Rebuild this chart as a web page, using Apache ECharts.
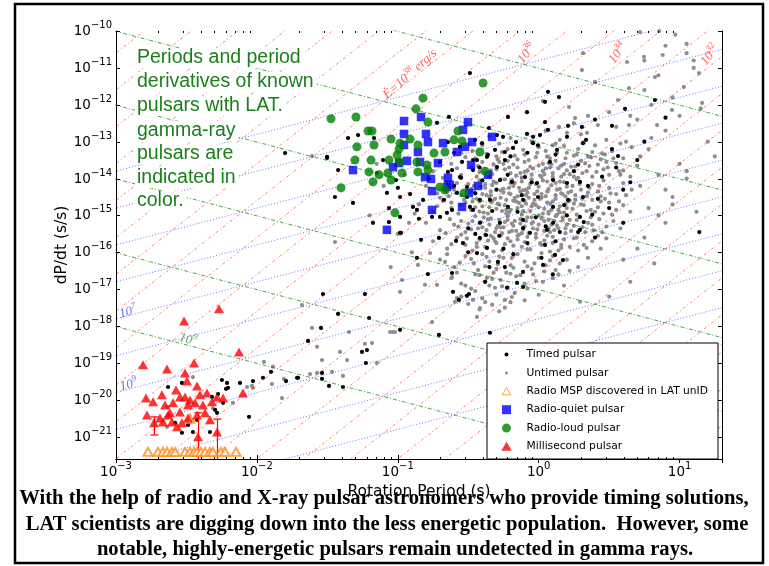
<!DOCTYPE html>
<html><head><meta charset="utf-8">
<script src="https://cdn.jsdelivr.net/npm/echarts@6/dist/echarts.min.js"></script>
<style>html,body{margin:0;padding:0;background:#fff}#c{width:769px;height:566px}</style>
</head><body><div id="c"></div>
<script>
// ---------------- DATA (log10 P [s], log10 dP/dt [s/s]) ----------------
const timedPulsars = [
[-1.318,-14.66],[-1.063,-15.18],[-1.531,-17.13],[-1.233,-17.13],[-1.424,-17.67],[-1.204,-17.78],[-1.545,-18.05],[-1.637,-18.4],[-1.254,-18.7],[-1.219,-18.65],[-1.226,-19.0],[-1.538,-19.27],[-1.538,-19.43],[-1.488,-19.62],[-1.389,-19.65],[-1.715,-19.4],[-1.793,-19.49],[-1.9,-19.24],[-1.957,-19.4],[-2.028,-19.49],[-2.12,-19.54],[-2.056,-20.46],
[-0.488,-11.14],[0.066,-11.65],[-0.083,-12.2],[-0.637,-12.33],[-1.282,-12.82],[-1.169,-12.9],[-1.353,-12.9],[-1.502,-13.44],[-1.424,-13.77],[-1.446,-14.5],[-1.077,-14.39],[-0.913,-14.42],[-0.999,-14.25],[-0.864,-14.85],[-0.85,-15.09],[-0.984,-15.47],[-1.176,-15.2],[-1.063,-14.8],[-1.148,-13.85],[-1.105,-13.5],[-1.013,-14.04],[-0.722,-12.49],[-0.644,-13.01],[-0.559,-13.14],[-0.452,-12.95],[-0.402,-13.04],[-0.31,-13.22],[-0.253,-12.87],[-0.182,-13.17],[-0.04,-13.04],[0.009,-12.82],[-0.466,-13.5],[-0.367,-13.41],[-0.296,-13.69],[-0.24,-13.5],[-0.615,-13.77],[-0.551,-13.98],[-0.509,-14.23],[-0.58,-14.39],[-0.672,-14.58],[-0.651,-14.93],[-0.757,-15.04],[-0.488,-14.77],[-0.417,-14.58],
[0.045,-12.47],[0.208,-12.57],[0.314,-13.04],[0.307,-12.6],[-0.161,-13.01],[-0.005,-13.1],[0.13,-13.22],[0.201,-12.87],[-0.296,-12.82],[-0.24,-13.28],[-0.36,-13.36],[-0.438,-13.5],[-0.544,-13.55],[-0.644,-13.82],[-0.559,-13.96],[-0.466,-13.77],[-0.275,-14.04],[-0.19,-14.09],[-0.097,-13.96],[-0.012,-14.12],[0.102,-14.04],[0.201,-14.12],[0.293,-14.09],[0.314,-14.5],[0.208,-14.58],[0.102,-14.77],[-0.005,-14.5],[-0.111,-14.58],[-0.218,-14.77],[-0.346,-14.58],[-0.466,-14.85],[-0.509,-14.5],[-0.615,-14.85],[-0.7,-15.04],[-0.821,-14.58],[-0.892,-14.77],[-0.984,-14.5],[-0.984,-15.04],[0.293,-15.04],[0.102,-15.2],[-0.111,-15.12],[-0.275,-15.2],[-0.417,-15.2],
[-0.977,-15.47],[-0.835,-15.66],[-0.864,-16.15],[-0.786,-16.59],[-0.615,-16.56],[-0.608,-17.07],[-0.509,-17.18],[-0.495,-17.13],[-0.566,-17.29],[-0.708,-15.61],[-0.587,-15.69],[-0.537,-15.75],[-0.438,-16.02],[-0.367,-15.88],[-0.289,-16.26],[-0.24,-16.4],[-0.225,-16.96],[-0.111,-16.53],[-0.154,-16.83],[0.045,-15.8],[0.031,-16.34],[0.116,-16.07],[0.172,-16.21],[-0.111,-16.94],[-0.984,-18.1],[-0.708,-18.24],[-0.346,-18.18],[-0.417,-15.61],[-0.374,-15.53],[-0.111,-15.34],[-0.062,-15.47],[0.059,-15.39],[0.293,-15.39],
[0.045,-11.92],[-0.218,-12.33],[-0.353,-12.63],[-0.083,-12.79],[0.066,-12.68],[-0.04,-12.87],[0.144,-11.79],[0.613,-12.11],[0.52,-12.57],[0.825,-11.87],[0.336,-12.95],[0.563,-13.39],
[-1.8,-13.31],[-1.502,-13.41],[1.14,-15.45],
[-2.631,-19.65],[-2.532,-19.54],[-2.212,-19.54],[-2.205,-19.67],[-2.319,-19.92],[-2.283,-20.35],[-2.333,-20.87],[-2.532,-20.89],[-2.454,-20.87],[-2.425,-20.54],[-2.24,-20.08],[-2.581,-20.62],[-2.489,-20.68],[-2.248,-19.46],[-2.219,-19.7],[-1.708,-19.4],[-2.297,-20.27],[-2.276,-19.84],
[-0.3,-14.3],[-0.15,-14.9],[0.05,-15.3],[0.2,-15.0],[-0.45,-15.5],[0.35,-14.2],[-0.05,-14.1],[0.12,-15.7],[-0.25,-15.9],[0.4,-15.6],[-0.6,-14.2],[0.5,-14.8],[-0.35,-16.4],[0.1,-16.6],[-0.5,-16.0],[0.25,-13.8],[-0.2,-13.4],[0.55,-13.7],[0.42,-14.55],[-0.08,-15.75],[0.28,-15.45],[-0.4,-14.05],[0.6,-14.3],[0.7,-13.5],
[-0.42,-13.7],[-0.33,-14.88],[-0.22,-13.9],[-0.12,-14.45],[-0.02,-15.05],[0.08,-13.55],[0.18,-14.72],[0.28,-13.62],[0.38,-14.98],[0.45,-13.95],[-0.5,-15.35],[-0.28,-15.55],[-0.18,-16.05],[0.02,-16.15],[0.15,-15.45],[-0.38,-16.8],[-0.45,-14.4],[0.32,-15.18],[-0.08,-13.3],[0.52,-13.2],[0.12,-13.35],[-0.6,-13.3],[-0.7,-13.55],[-0.78,-14.0],[0.65,-14.1],[0.75,-13.0],[0.4,-12.4],[0.9,-12.35],[0.6,-15.2]
];
const untimedPulsars = [
[-0.2,-12.9],[0.05,-12.7],[0.3,-12.8],[0.55,-12.6],[0.62,-13.0],[0.15,-12.95],[0.42,-12.55],[0.8,-12.9],[-0.35,-12.85],[0.7,-12.4],[0.9,-12.7],[0.25,-12.5],[-0.05,-13.0],[0.48,-12.95],[1.0,-12.3],
[-0.55,-13.3],[-0.4,-13.1],[-0.3,-13.4],[-0.22,-13.2],[-0.1,-13.35],[0.0,-13.15],[0.08,-13.45],[0.12,-13.05],[0.2,-13.3],[0.28,-13.2],[0.35,-13.4],[0.4,-13.1],[0.47,-13.35],[0.52,-13.25],[0.6,-13.45],[0.66,-13.15],[0.72,-13.4],[-0.15,-13.48],[-0.45,-13.45],[0.18,-13.12],[0.32,-13.02],[0.58,-13.05],[-0.02,-13.42],[0.44,-13.48],[0.25,-13.38],[0.05,-13.25],[-0.28,-13.05],[0.78,-13.2],[0.38,-13.28],[0.1,-13.1],
[-0.75,-13.8],[-0.62,-13.6],[-0.55,-13.9],[-0.48,-13.7],[-0.4,-13.55],[-0.35,-13.95],[-0.3,-13.75],[-0.25,-13.6],[-0.2,-13.85],[-0.15,-13.7],[-0.1,-13.55],[-0.05,-13.9],[0.0,-13.65],[0.03,-13.8],[0.07,-13.58],[0.1,-13.95],[0.14,-13.72],[0.18,-13.6],[0.22,-13.88],[0.26,-13.67],[0.3,-13.52],[0.34,-13.8],[0.38,-13.95],[0.42,-13.62],[0.46,-13.75],[0.5,-13.9],[0.55,-13.58],[0.6,-13.78],[0.65,-13.95],[0.7,-13.65],[-0.68,-13.98],[-0.42,-13.82],[-0.12,-13.98],[0.12,-13.52],[0.28,-13.98],[0.48,-13.55],[-0.58,-13.72],[-0.22,-13.52],[0.02,-13.96],[0.36,-13.66],[0.58,-13.9],[-0.32,-13.62],[0.2,-13.78],[0.08,-13.7],[-0.08,-13.78],
[-0.8,-14.2],[-0.72,-14.4],[-0.66,-14.1],[-0.6,-14.3],[-0.55,-14.45],[-0.5,-14.15],[-0.46,-14.35],[-0.42,-14.05],[-0.38,-14.25],[-0.34,-14.45],[-0.3,-14.12],[-0.27,-14.32],[-0.24,-14.02],[-0.21,-14.4],[-0.18,-14.2],[-0.15,-14.48],[-0.12,-14.08],[-0.09,-14.3],[-0.06,-14.15],[-0.03,-14.42],[0.0,-14.22],[0.03,-14.05],[0.06,-14.35],[0.09,-14.18],[0.12,-14.45],[0.15,-14.28],[0.18,-14.1],[0.21,-14.38],[0.24,-14.2],[0.27,-14.02],[0.3,-14.3],[0.34,-14.48],[0.38,-14.15],[0.42,-14.35],[0.46,-14.05],[0.5,-14.25],[0.55,-14.42],[0.6,-14.12],[0.66,-14.3],[0.72,-14.2],[-0.64,-14.48],[-0.48,-14.28],[-0.33,-14.18],[-0.19,-14.05],[-0.07,-14.25],[0.05,-14.48],[0.16,-14.4],[0.26,-14.45],[0.36,-14.25],[0.44,-14.48],[-0.25,-14.38],[-0.4,-14.42],[0.1,-14.02],[-0.13,-14.35],[0.2,-14.22],
[-0.85,-14.7],[-0.75,-14.9],[-0.68,-14.6],[-0.62,-14.8],[-0.57,-14.95],[-0.52,-14.65],[-0.48,-14.85],[-0.44,-14.55],[-0.4,-14.75],[-0.36,-14.95],[-0.33,-14.62],[-0.3,-14.82],[-0.27,-14.52],[-0.24,-14.72],[-0.21,-14.92],[-0.18,-14.6],[-0.15,-14.8],[-0.12,-14.98],[-0.09,-14.68],[-0.06,-14.88],[-0.03,-14.58],[0.0,-14.78],[0.03,-14.95],[0.06,-14.65],[0.09,-14.85],[0.12,-14.55],[0.15,-14.75],[0.18,-14.92],[0.21,-14.62],[0.24,-14.82],[0.27,-14.98],[0.3,-14.7],[0.34,-14.88],[0.38,-14.58],[0.42,-14.78],[0.46,-14.95],[0.5,-14.65],[0.55,-14.85],[0.6,-14.72],[0.65,-14.9],[-0.7,-14.52],[-0.55,-14.72],[-0.42,-14.9],[-0.29,-14.68],[-0.17,-14.52],[-0.05,-14.75],[0.07,-14.9],[0.19,-14.7],[0.31,-14.55],[0.44,-14.62],[-0.35,-14.78],[-0.2,-14.85],[-0.1,-14.6],[0.02,-14.52],[0.13,-14.98],[0.25,-14.68],[0.37,-14.85],[-0.47,-14.62],[0.52,-14.98],[-0.23,-14.58],
[-0.8,-15.2],[-0.7,-15.4],[-0.63,-15.1],[-0.57,-15.3],[-0.52,-15.45],[-0.47,-15.15],[-0.43,-15.35],[-0.39,-15.05],[-0.35,-15.25],[-0.31,-15.45],[-0.28,-15.12],[-0.25,-15.32],[-0.22,-15.02],[-0.19,-15.22],[-0.16,-15.42],[-0.13,-15.1],[-0.1,-15.3],[-0.07,-15.48],[-0.04,-15.18],[-0.01,-15.38],[0.02,-15.08],[0.05,-15.28],[0.08,-15.45],[0.11,-15.15],[0.14,-15.35],[0.17,-15.05],[0.2,-15.25],[0.23,-15.42],[0.27,-15.12],[0.31,-15.32],[0.35,-15.2],[0.39,-15.4],[0.43,-15.1],[0.48,-15.3],[0.53,-15.15],[0.58,-15.35],[-0.66,-15.48],[-0.5,-15.22],[-0.37,-15.4],[-0.24,-15.18],[-0.12,-15.48],[0.0,-15.25],[0.12,-15.02],[0.25,-15.28],[0.37,-15.05],[-0.45,-15.02],[-0.3,-15.35],[-0.18,-15.28],[-0.05,-15.05],[0.07,-15.35],[0.19,-15.48],[0.33,-15.45],[-0.6,-15.25],[0.45,-15.45],[-0.09,-15.15],
[-0.75,-15.7],[-0.65,-15.9],[-0.58,-15.6],[-0.52,-15.8],[-0.47,-15.95],[-0.42,-15.65],[-0.38,-15.85],[-0.34,-15.55],[-0.3,-15.75],[-0.26,-15.95],[-0.22,-15.62],[-0.18,-15.82],[-0.14,-15.52],[-0.1,-15.72],[-0.06,-15.92],[-0.02,-15.6],[0.02,-15.8],[0.06,-15.55],[0.1,-15.75],[0.14,-15.95],[0.18,-15.65],[0.22,-15.85],[0.27,-15.6],[0.32,-15.8],[0.38,-15.7],[0.44,-15.9],[-0.55,-15.52],[-0.44,-15.75],[-0.32,-15.98],[-0.2,-15.7],[-0.08,-15.58],[0.04,-15.68],[0.16,-15.88],[0.28,-15.95],[-0.36,-15.68],[-0.12,-15.85],[0.08,-15.98],[-0.62,-15.78],[0.48,-15.62],[-0.27,-15.55],
[-0.7,-16.2],[-0.6,-16.4],[-0.52,-16.1],[-0.46,-16.3],[-0.4,-16.05],[-0.35,-16.25],[-0.3,-16.45],[-0.25,-16.15],[-0.2,-16.35],[-0.15,-16.05],[-0.1,-16.25],[-0.05,-16.45],[0.0,-16.15],[0.05,-16.35],[0.1,-16.1],[0.15,-16.3],[0.2,-16.2],[0.28,-16.4],[-0.56,-16.28],[-0.43,-16.48],[-0.28,-16.12],[-0.18,-16.42],[-0.03,-16.3],[0.12,-16.48],[0.35,-16.15],[-0.65,-16.05],[-0.38,-16.38],[0.02,-16.02],
[-0.62,-16.7],[-0.52,-16.9],[-0.45,-16.6],[-0.38,-16.8],[-0.32,-16.55],[-0.27,-16.75],[-0.22,-16.95],[-0.16,-16.65],[-0.1,-16.85],[-0.04,-16.6],[0.03,-16.8],[0.1,-16.7],[-0.48,-16.98],[-0.35,-16.9],[-0.2,-16.58],[0.18,-16.9],[-0.58,-16.55],[-0.08,-16.98],
[-0.55,-17.2],[-0.45,-17.05],[-0.38,-17.35],[-0.3,-17.15],[-0.24,-17.5],[-0.17,-17.1],[-0.1,-17.3],[-0.42,-17.55],[0.0,-17.15],[-0.28,-17.6],
[-0.42,-14.62],[-0.38,-14.15],[-0.36,-15.1],[-0.33,-13.88],[-0.31,-14.55],[-0.29,-15.28],[-0.27,-14.02],[-0.26,-14.88],[-0.24,-13.75],[-0.22,-15.12],[-0.2,-14.42],[-0.19,-15.42],[-0.17,-14.12],[-0.16,-13.92],[-0.14,-14.66],[-0.13,-15.22],[-0.11,-14.32],[-0.1,-13.82],[-0.08,-15.05],[-0.07,-14.52],[-0.05,-14.02],[-0.04,-15.35],[-0.02,-14.72],[0.01,-13.92],[0.02,-14.42],[0.04,-15.15],[0.06,-14.08],[0.08,-14.68],[0.1,-13.85],[0.11,-15.4],[0.13,-14.3],[0.14,-14.85],[0.16,-13.65],[0.17,-15.12],[0.19,-14.48],[-0.44,-13.95],[-0.4,-15.32],[-0.34,-14.35],[-0.28,-13.55],[-0.23,-14.95],[-0.18,-13.62],[-0.12,-14.75],[-0.06,-13.68],[0.0,-15.0],[0.05,-13.72],[0.09,-15.25],[0.15,-14.08],[0.18,-13.88],[-0.37,-14.45],[-0.21,-14.25],[-0.01,-14.35],[0.07,-14.95],[-0.15,-15.55],[-0.32,-15.62],[-0.09,-14.45],[0.03,-13.6],[0.22,-14.6],[0.25,-13.95],[-0.46,-14.2],[-0.26,-15.48],
[-0.52,-13.42],[-0.47,-13.25],[-0.43,-13.66],[-0.37,-13.33],[-0.34,-13.78],[-0.29,-13.48],[-0.26,-13.28],[-0.21,-13.7],[-0.17,-13.38],[-0.13,-13.85],[-0.11,-13.22],[-0.07,-13.5],[-0.04,-13.73],[-0.01,-13.3],[0.04,-13.88],[0.06,-13.4],[0.09,-13.62],[0.13,-13.3],[0.16,-13.95],[0.19,-13.45],[0.23,-13.68],[0.27,-13.35],[0.31,-13.85],[0.33,-13.58],[0.37,-13.42],[0.41,-13.82],[0.45,-13.32],[0.49,-13.7],[0.53,-13.45],[0.57,-13.8],
[-0.58,-14.12],[-0.53,-14.58],[-0.49,-14.38],[-0.45,-14.78],[-0.41,-14.22],[-0.39,-14.92],[-0.35,-14.5],[-0.32,-14.08],[-0.28,-14.7],[-0.25,-14.28],[-0.23,-14.85],[-0.2,-14.12],[-0.16,-14.62],[-0.14,-14.25],[-0.11,-14.88],[-0.08,-14.38],[-0.04,-14.68],[-0.02,-14.15],[0.01,-14.55],[0.04,-14.82],[0.07,-14.28],[0.1,-14.62],[0.12,-14.12],[0.15,-14.92],[0.17,-14.42],[0.2,-14.8],[0.23,-14.35],[0.26,-14.58],[0.29,-14.15],[0.32,-14.72],[0.35,-14.38],[0.4,-14.9],[0.43,-14.2],[0.47,-14.55],[0.51,-14.4],[0.57,-14.62],[0.62,-14.45],[-0.62,-14.65],[-0.66,-14.35],[-0.72,-14.75],
[-0.55,-15.15],[-0.51,-15.62],[-0.48,-15.38],[-0.44,-15.85],[-0.41,-15.18],[-0.38,-15.52],[-0.34,-15.08],[-0.31,-15.7],[-0.27,-15.32],[-0.24,-15.78],[-0.21,-15.45],[-0.17,-15.15],[-0.15,-15.65],[-0.11,-15.38],[-0.08,-15.92],[-0.05,-15.22],[-0.02,-15.5],[0.01,-15.75],[0.04,-15.42],[0.07,-15.12],[0.1,-15.58],[0.13,-15.28],[0.16,-15.8],[0.19,-15.35],[0.22,-15.12],[0.25,-15.62],[0.29,-15.4],[0.34,-15.88],[0.38,-15.25],[0.42,-15.55],
[-0.48,-16.18],[-0.42,-16.62],[-0.37,-16.12],[-0.33,-16.72],[-0.29,-16.32],[-0.23,-16.55],[-0.19,-16.15],[-0.13,-16.62],[-0.08,-16.38],[-0.02,-16.78],[0.04,-16.52],[0.08,-16.22],[0.14,-16.6],[0.22,-16.5],[-0.55,-16.85],[-0.26,-16.92],[-0.4,-17.25],[-0.33,-17.42],[-0.2,-17.35],[-0.5,-17.4],
[-1.1,-14.2],[-1.0,-15.5],[-0.95,-13.9],[-0.9,-16.0],[-1.2,-15.0],[-0.88,-14.95],[-1.05,-16.4],[-0.92,-15.2],[-1.15,-13.6],
[-0.984,-17.07],[-0.807,-16.88],[-0.757,-17.89],[-1.034,-18.16],[-0.58,-17.24],[-0.466,-17.29],[-0.438,-17.75],[-0.417,-17.51],[-0.594,-17.34],[-0.722,-16.88],[-0.615,-16.67],[-0.367,-16.69],[-0.31,-16.96],[-0.24,-17.29],[-0.19,-17.21],[-0.97,-16.75],[-0.857,-16.34],[-0.771,-16.02],[-0.665,-16.26],[0.293,-17.34],
[0.5,-12.2],[0.75,-11.6],[0.85,-11.2],[0.95,-11.8],[1.1,-11.0],[0.9,-10.4],[1.05,-10.6],[0.65,-12.3],[0.35,-12.3],[1.15,-12.1],[0.8,-12.0],[1.2,-13.0],[1.0,-13.6],[0.9,-14.3],[0.85,-15.0],[0.95,-14.7],[0.75,-15.6],[0.6,-16.2],[0.65,-16.8],[0.5,-17.2],[1.05,-14.0],[1.25,-13.4],
[0.97,-10.1],[1.05,-10.35],[1.1,-10.8],[0.75,-10.8],[0.88,-10.65],
[0.307,-11.06],[0.4,-11.38],[0.747,-10.7],[0.72,-10.03],[0.855,-10.0],[0.627,-10.84],[0.825,-11.25],[0.641,-11.55],[0.215,-12.06],[0.563,-11.87],[1.03,-11.52],[1.138,-11.14],[0.946,-12.14],[1.16,-11.95],[0.641,-12.55],[0.84,-12.55],
[0.03,-11.9],[0.314,-10.6],[0.258,-12.36],[0.144,-12.6],[0.343,-12.76],[0.201,-12.76],
[0.85,-13.9],[0.95,-14.5],[1.05,-13.8],[0.9,-15.2],[0.78,-14.8],[1.12,-14.9],[0.7,-15.9],[0.82,-16.3],
[-1.446,-15.72],[-1.68,-17.43],[-1.609,-18.05],[-1.573,-18.56],[-1.538,-18.92],[-1.41,-18.7],[-1.36,-18.92],[-1.346,-18.16],[-1.233,-18.48],[-1.183,-18.46],[-1.148,-19.0],[-1.055,-18.16],[-1.02,-18.16],[-1.95,-18.97],[-1.886,-19.1],[-1.893,-19.57],[-1.822,-19.95],[-1.808,-19.43],[-1.623,-19.3],[-1.573,-19.27],[-1.467,-19.24],[-1.389,-19.35],[-2.07,-19.65],[-2.028,-19.67],
[-1.609,-13.39],[-2.631,-20.19],[-2.454,-19.38],[-2.035,-19.62],[-2.312,-20.22],[-2.475,-20.6],[-2.638,-20.73],[-2.17,-20.08]
];
const mspUnID = [
[-2.773,-21.41],[-2.702,-21.41],[-2.667,-21.41],[-2.638,-21.41],[-2.603,-21.41],[-2.581,-21.41],[-2.51,-21.41],[-2.475,-21.41],[-2.446,-21.41],[-2.425,-21.41],[-2.397,-21.41],[-2.368,-21.41],[-2.333,-21.41],[-2.312,-21.41],[-2.255,-21.41],[-2.226,-21.41],[-2.148,-21.41],
[-2.475,-20.51]
];
const radioQuiet = [
[-0.956,-12.44],[-0.835,-12.33],[-0.956,-12.79],[-0.8,-12.79],[-0.956,-13.09],[-0.786,-13.01],[-0.679,-13.04],[-0.502,-12.47],[-0.537,-12.68],[-0.473,-13.01],[-0.331,-12.87],[-0.58,-13.28],[-0.523,-13.14],[-0.857,-13.28],[-0.935,-13.52],[-0.991,-13.58],[-0.842,-13.55],[-0.715,-13.58],[-0.48,-13.63],[-1.318,-13.77],[-0.807,-13.96],[-0.764,-14.01],[-0.644,-13.98],[-0.63,-14.17],[-0.36,-13.9],[-0.431,-14.2],[-0.757,-14.34],[-0.651,-14.23],[-0.495,-14.39],[-0.544,-14.77],[-0.757,-14.85],[-1.077,-15.39],[-1.034,-13.69]
];
const radioLoud = [
[-0.395,-11.41],[-0.821,-11.82],[-0.871,-12.11],[-1.474,-12.38],[-1.297,-12.33],[-0.786,-12.47],[-1.211,-12.71],[-1.183,-12.71],[-1.048,-12.93],[-0.984,-13.04],[-0.913,-12.93],[-0.857,-13.09],[-1.29,-13.14],[-1.169,-13.09],[-0.601,-12.95],[-0.573,-12.71],[-0.544,-12.98],[-0.417,-13.28],[-0.743,-13.31],[-0.665,-13.28],[-0.991,-13.2],[-1.005,-13.36],[-1.304,-13.5],[-1.19,-13.5],[-1.062,-13.5],[-0.984,-13.55],[-0.864,-13.55],[-0.793,-13.63],[-0.786,-13.77],[-1.204,-13.82],[-1.133,-13.9],[-1.07,-13.85],[-0.97,-13.85],[-0.857,-13.82],[-1.048,-14.04],[-1.176,-14.09],[-0.381,-13.8],[-0.7,-14.23],[-0.665,-14.31],[-0.53,-14.39],[-1.403,-14.25],[-1.02,-14.93]
];
const millisecondPulsars = [
[-2.269,-17.53],[-2.517,-17.86],[-2.127,-18.7],[-2.808,-19.05],[-2.638,-19.16],[-2.446,-19.0],[-2.51,-19.27],[-2.496,-19.49],[-2.425,-19.62],[-2.099,-19.81],
[-2.574,-19.73],[-2.354,-19.81],[-2.283,-19.92],[-2.24,-19.95],[-2.787,-19.95],[-2.737,-20.05],[-2.674,-19.86],[-2.652,-20.14],[-2.595,-20.08],[-2.51,-19.92],[-2.489,-20.14],[-2.439,-20.08],[-2.383,-20.14],[-2.319,-20.05],
[-2.78,-20.41],[-2.617,-20.35],[-2.546,-20.33],[-2.666,-20.6],[-2.603,-20.6],[-2.567,-20.73],[-2.73,-20.62],[-2.489,-20.49],[-2.425,-20.41],[-2.333,-20.54],[-2.418,-21.0],[-2.283,-20.87],
[-2.688,-20.49],[-2.631,-20.41],[-2.532,-20.62],[-2.368,-20.35],[-2.475,-20.0],[-2.404,-19.86],[-2.546,-19.92]
];
// error bars on three millisecond pulsars: [log10 P, log10 lower, log10 upper]
const mspErrorBars = [[-2.73,-20.95,-20.46],[-2.418,-23.0,-20.35],[-2.283,-23.0,-20.52]];

const xTickExponents = [-3,-2,-1,0,1];
const yTickExponents = [-21,-20,-19,-18,-17,-16,-15,-14,-13,-12,-11,-10];
const edotLinesLog = [22,23,24,25,26,27,28,29,30,31,32,33,34,35,36,37,38,39,40,41,42,43,44,45];  // erg/s
const ageLinesLog = [3,4,5,6,7,8,9,10,11,12];   // yr
const fieldLinesLog = [9,10,11,12,13,14];       // Gauss

const legendNames = ['Timed pulsar','Untimed pulsar','Radio MSP discovered in LAT unID','Radio-quiet pulsar','Radio-loud pulsar','Millisecond pulsar'];
const noteLines = ['Periods and period','derivatives of known','pulsars with LAT.','gamma-ray','pulsars are','indicated in','color.'];
const captionLines = [
 'With the help of radio and X-ray pulsar astronomers who provide timing solutions,',
 'LAT scientists are digging down into the less energetic population.  However, some',
 'notable, highly-energetic pulsars remain undetected in gamma rays.'
];

// ---------------- BUILD ----------------
const pw = v => Math.pow(10, v);
const toXY = a => a.map(d => [pw(d[0]), pw(d[1])]);
const X_MIN = 1e-3, X_MAX = 20, Y_MIN = 2.5e-22, Y_MAX = 1e-10;
const SANS = 'DejaVu Sans';
const SERIF = 'Liberation Serif';

function refLine(name, fn, color, dash) {
  return {
    type: 'line', name, silent: true, symbol: 'none', clip: true, z: 3,
    data: [[1e-4, fn(1e-4)], [1e3, fn(1e3)]],
    lineStyle: { color, width: 1, type: dash },
    animation: false
  };
}
const refSeries = [];
edotLinesLog.forEach(e => refSeries.push(refLine('edot' + e, p => pw(e) * p * p * p / 3.95e46, 'rgba(255,0,0,0.5)', [3, 2.5, 1, 2.5])));
ageLinesLog.forEach(t => refSeries.push(refLine('age' + t, p => p / (2 * pw(t) * 3.156e7), 'rgba(0,0,255,0.55)', [1, 2])));
fieldLinesLog.forEach(b => refSeries.push(refLine('B' + b, p => Math.pow(pw(b) / 3.2e19, 2) / p, 'rgba(0,128,0,0.7)', [4, 2, 1, 2])));

const lblRich = {
  rb: { fontFamily: SERIF, fontStyle: 'italic', fontSize: 13, color: 'rgba(255,0,0,0.8)' },
  rs: { fontFamily: SERIF, fontStyle: 'italic', fontSize: 9, color: 'rgba(255,0,0,0.8)', padding: [0, 0, 9, 0] },
  bb: { fontFamily: SERIF, fontStyle: 'italic', fontSize: 13, color: 'rgba(0,0,255,0.75)' },
  bs: { fontFamily: SERIF, fontStyle: 'italic', fontSize: 9, color: 'rgba(0,0,255,0.75)', padding: [0, 0, 9, 0] },
  gb: { fontFamily: SERIF, fontStyle: 'italic', fontSize: 13, color: 'rgba(0,128,0,0.8)' },
  gs: { fontFamily: SERIF, fontStyle: 'italic', fontSize: 9, color: 'rgba(0,128,0,0.8)', padding: [0, 0, 9, 0] }
};
const lineLabels = [
  { t: '{rb|Ė=10}{rs|38}{rb| erg/s}', p: -0.913, d: -11.17, a: 42 },
  { t: '{rb|10}{rs|36}', p: -0.083, d: -10.6, a: 52 },
  { t: '{rb|10}{rs|34}', p: 0.563, d: -10.6, a: 52 },
  { t: '{rb|10}{rs|32}', p: 1.216, d: -10.65, a: 52 },
  { t: '{bb|10}{bs|7}', p: -2.915, d: -17.62, a: 15 },
  { t: '{bb|10}{bs|9}', p: -2.91, d: -19.59, a: 15 },
  { t: '{gb|10}{gs|9}', p: -2.49, d: -18.37, a: -15 }
];

const minorX = [];
xTickExponents.forEach(k => { for (let m = 2; m <= 9; m++) { const v = m * pw(k); if (v < X_MAX) minorX.push([v, Y_MIN]); } });

const tickRich = {
  b: { fontFamily: SANS, fontSize: 13.5, fill: '#000', color: '#000' },
  s: { fontFamily: SANS, fontSize: 10, fill: '#000', color: '#000', padding: [0, 0, 13, 0] }
};

const option = {
  animation: false,
  backgroundColor: '#fff',
  grid: { left: 116, right: 47, top: 31, bottom: 107 },
  xAxis: [{
    type: 'log', logBase: 10, min: X_MIN, max: X_MAX,
    name: 'Rotation Period (s)', nameLocation: 'middle', nameGap: 24,
    nameTextStyle: { fontFamily: SANS, fontSize: 15.5, color: '#000' },
    axisLine: { show: true, lineStyle: { color: '#000', width: 1 } },
    axisTick: { show: true, inside: true, length: 4, lineStyle: { color: '#000' } },
    splitLine: { show: false },
    axisLabel: {
      margin: 2,
      formatter: v => { const e = Math.log10(v); const r = Math.round(e); return Math.abs(e - r) < 1e-6 && xTickExponents.includes(r) ? '{b|10}{s|' + (r < 0 ? '\u2212' + (-r) : r) + '}' : ''; },
      rich: tickRich
    }
  }, {
    type: 'log', logBase: 10, min: X_MIN, max: X_MAX, position: 'top',
    axisLine: { show: true, lineStyle: { color: '#000', width: 1 } },
    axisTick: { show: true, inside: true, length: 4, lineStyle: { color: '#000' } },
    axisLabel: { show: false }, splitLine: { show: false }
  }],
  yAxis: [{
    type: 'log', logBase: 10, min: Y_MIN, max: Y_MAX,
    name: 'dP/dt (s/s)', nameLocation: 'middle', nameGap: 46, nameRotate: 90,
    nameTextStyle: { fontFamily: SANS, fontSize: 15.5, color: '#000' },
    axisLine: { show: true, lineStyle: { color: '#000', width: 1 } },
    axisTick: { show: false }, axisLabel: { show: false }, splitLine: { show: false }
  }, {
    type: 'log', logBase: 10, min: Y_MIN, max: Y_MAX, position: 'right',
    axisLine: { show: true, lineStyle: { color: '#000', width: 1 } },
    axisTick: { show: false }, axisLabel: { show: false }, splitLine: { show: false }
  }],
  legend: {
    orient: 'vertical', left: 487, top: 343, selectedMode: false,
    padding: [6, 10, 7, 4], itemGap: 7.4, itemWidth: 30, itemHeight: 10,
    backgroundColor: '#fff', borderColor: '#000', borderWidth: 1, borderRadius: 0,
    textStyle: { fontFamily: SANS, fontSize: 10.7, color: '#000' },
    data: [
      { name: legendNames[0], icon: 'path://M-15,-5M15,5M2,0A2,2,0,1,1,-2,0A2,2,0,1,1,2,0Z' },
      { name: legendNames[1], icon: 'path://M-15,-5M15,5M1.5,0A1.5,1.5,0,1,1,-1.5,0A1.5,1.5,0,1,1,1.5,0Z' },
      { name: legendNames[2], icon: 'path://M-15,-5M15,5M0,-3.8L4.2,3.6L-4.2,3.6Z', itemStyle: { color: '#fff', borderColor: '#ff8c1a', borderWidth: 1 } },
      { name: legendNames[3], icon: 'path://M-15,-5M15,5M-4.5,-4.5L4.5,-4.5L4.5,4.5L-4.5,4.5Z' },
      { name: legendNames[4], icon: 'path://M-15,-5M15,5M4.5,0A4.5,4.5,0,1,1,-4.5,0A4.5,4.5,0,1,1,4.5,0Z' },
      { name: legendNames[5], icon: 'path://M-15,-5M15,5M0,-4.8L5.2,4.2L-5.2,4.2Z' }
    ]
  },
  graphic: [
    { type: 'rect', z: 100, shape: { x: 15, y: 4, width: 748, height: 559 }, style: { fill: 'none', stroke: '#000', lineWidth: 2.5 } },
    ...noteLines.map((t, i) => ({
      type: 'text', z: 50, left: 135, top: [48, 72, 96, 121, 144, 168, 191][i],
      style: { text: t, font: '19.5px "Liberation Sans"', fill: '#1a7f1a', backgroundColor: '#fff', padding: [0, 3, 0, 2] }
    })),
    ...captionLines.map((t, i) => ({
      type: 'text', z: 100, x: [384, 387, 395][i], y: [499, 525, 550][i],
      style: { text: t, font: 'bold 20.6px "Liberation Serif"', fill: '#000', align: 'center', verticalAlign: 'middle' }
    }))
  ],
  series: [
    { type: 'scatter', name: legendNames[1], data: toXY(untimedPulsars), symbol: 'circle', symbolSize: 4.2, itemStyle: { color: '#8f8f8f', opacity: 1 }, z: 2, silent: true },
    { type: 'scatter', name: legendNames[0], data: toXY(timedPulsars), symbol: 'circle', symbolSize: 4.2, itemStyle: { color: '#000', opacity: 1 }, z: 2, silent: true },
    ...refSeries,
    {
      type: 'scatter', name: 'lineLabels', silent: true, z: 4, symbolSize: 0,
      data: lineLabels.map(l => ({ value: [pw(l.p), pw(l.d)], txt: l.t, label: { rotate: l.a } })),
      label: { show: true, position: 'inside', formatter: p => p.data.txt, rich: lblRich }
    },
    {
      type: 'custom', name: 'mspErr', silent: true, z: 5, clip: true,
      data: mspErrorBars.map(d => [pw(d[0]), pw(d[1]), pw(d[2])]),
      renderItem: (params, api) => {
        const lo = api.coord([api.value(0), api.value(1)]);
        const hi = api.coord([api.value(0), api.value(2)]);
        const x = Math.round(lo[0]) + 0.5;
        const st = { stroke: '#ff0000', lineWidth: 1.2 };
        return { type: 'group', children: [
          { type: 'line', shape: { x1: x, y1: lo[1], x2: x, y2: hi[1] }, style: st },
          { type: 'line', shape: { x1: x - 4, y1: hi[1], x2: x + 4, y2: hi[1] }, style: st },
          { type: 'line', shape: { x1: x - 4, y1: lo[1], x2: x + 4, y2: lo[1] }, style: st }
        ] };
      }
    },
    { type: 'scatter', name: legendNames[2], data: toXY(mspUnID), symbol: 'emptyTriangle', symbolSize: [9, 8], itemStyle: { color: '#ff8c1a', borderColor: '#ff8c1a', borderWidth: 1 }, z: 6, silent: true },
    { type: 'scatter', name: legendNames[3], data: toXY(radioQuiet), symbol: 'rect', symbolSize: 8.5, itemStyle: { color: '#0000ff' }, z: 6, silent: true },
    { type: 'scatter', name: legendNames[4], data: toXY(radioLoud), symbol: 'circle', symbolSize: 9, itemStyle: { color: '#008000' }, z: 6, silent: true },
    { type: 'scatter', name: legendNames[5], data: toXY(millisecondPulsars), symbol: 'triangle', symbolSize: [10, 9], itemStyle: { color: '#ff0000' }, z: 7, silent: true },
    {
      type: 'custom', name: 'minorTicksX', silent: true, z: 8, clip: false,
      data: minorX,
      renderItem: (params, api) => {
        const cs = params.coordSys;
        const x = Math.round(api.coord([api.value(0), Y_MIN])[0]) + 0.5;
        const st = { stroke: '#000', lineWidth: 1 };
        return { type: 'group', children: [
          { type: 'line', shape: { x1: x, y1: cs.y + cs.height, x2: x, y2: cs.y + cs.height - 2 }, style: st },
          { type: 'line', shape: { x1: x, y1: cs.y, x2: x, y2: cs.y + 2 }, style: st }
        ] };
      }
    },
    {
      type: 'custom', name: 'yTicks', silent: true, z: 8, clip: false,
      data: yTickExponents.map(e => [X_MIN, pw(e), e]),
      renderItem: (params, api) => {
        const cs = params.coordSys;
        const y = Math.round(api.coord([X_MIN, api.value(1)])[1]) + 0.5;
        const e = api.value(2);
        const st = { stroke: '#000', lineWidth: 1 };
        return { type: 'group', children: [
          { type: 'line', shape: { x1: cs.x, y1: y, x2: cs.x + 4, y2: y }, style: st },
          { type: 'line', shape: { x1: cs.x + cs.width - 4, y1: y, x2: cs.x + cs.width, y2: y }, style: st },
          { type: 'text', x: cs.x - 4, y: y, style: { text: '{b|10}{s|\u2212' + (-e) + '}', rich: tickRich, align: 'right', verticalAlign: 'middle', textAlign: 'right', textVerticalAlign: 'middle' } }
        ] };
      }
    }
  ]
};
const chart = echarts.init(document.getElementById('c'), null, { width: 769, height: 566 });
chart.setOption(option);
</script>
</body></html>
